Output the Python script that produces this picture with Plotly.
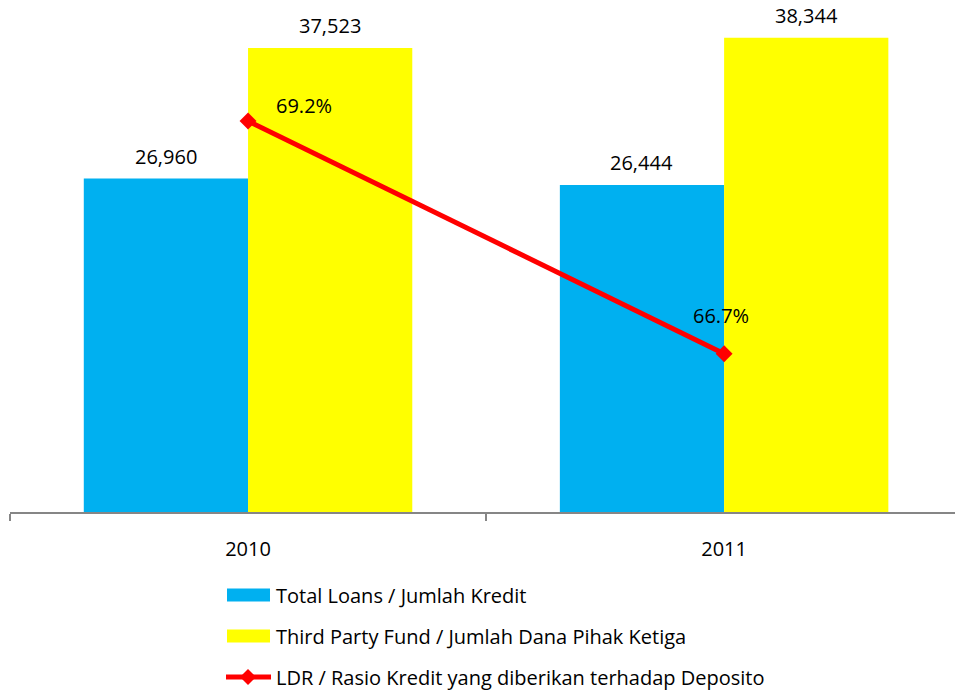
import plotly.graph_objects as go

# Chart data
years = ["2010", "2011"]
total_loans = [26960, 26444]
third_party_fund = [37523, 38344]
ldr_pct = [69.2, 66.7]

loans_name = "Total Loans / Jumlah Kredit"
fund_name = "Third Party Fund / Jumlah Dana Pihak Ketiga"
ldr_name = "LDR / Rasio Kredit yang diberikan terhadap Deposito"

BLUE = "#00B0F0"
YELLOW = "#FFFF00"
RED = "#FF0000"
FONT = "Open Sans"
FS = 20

W, H = 955, 692
ML, MR, MT, MB = 10, 0, 0, 180

fig = go.Figure()
fig.add_trace(go.Bar(x=years, y=total_loans, name=loans_name,
                     marker=dict(color=BLUE, line=dict(width=0)),
                     offsetgroup="a"))
fig.add_trace(go.Bar(x=years, y=third_party_fund, name=fund_name,
                     marker=dict(color=YELLOW, line=dict(width=0)),
                     offsetgroup="b"))
fig.add_trace(go.Scatter(x=years, y=ldr_pct, name=ldr_name, yaxis="y2",
                         mode="lines+markers",
                         line=dict(color=RED, width=5),
                         marker=dict(symbol="diamond", size=13, color=RED)))

bargap = 0.31
half = (1 - bargap) / 4  # centre offset of each bar within its group

annotations = []
for i in range(len(years)):
    annotations.append(dict(x=i - half, y=total_loans[i], xref="x", yref="y",
                            text=f"{total_loans[i]:,}", showarrow=False,
                            yanchor="middle", yshift=22))
    annotations.append(dict(x=i + half, y=third_party_fund[i], xref="x", yref="y",
                            text=f"{third_party_fund[i]:,}", showarrow=False,
                            yanchor="middle", yshift=22))

# percentage labels for the ratio line
annotations.append(dict(x=0, y=ldr_pct[0], xref="x", yref="y2",
                        text=f"{ldr_pct[0]:.1f}%", showarrow=False,
                        xanchor="left", yanchor="middle", xshift=26, yshift=16))
annotations.append(dict(x=1, y=ldr_pct[1], xref="x", yref="y2",
                        text=f"{ldr_pct[1]:.1f}%", showarrow=False,
                        xanchor="center", yanchor="middle", xshift=-3, yshift=38))

# custom legend drawn below the plot
pw = W - ML - MR
ph = H - MT - MB
def px_x(p):
    return (p - ML) / pw
def px_y(p):
    return (H - MB - p) / ph

shapes = []
legend_rows = [(loans_name, "box", BLUE, 595),
               (fund_name, "box", YELLOW, 636),
               (ldr_name, "line", RED, 677)]
for label, kind, color, yc in legend_rows:
    if kind == "box":
        shapes.append(dict(type="rect", xref="paper", yref="paper",
                           x0=px_x(227), x1=px_x(270),
                           y0=px_y(yc + 6.5), y1=px_y(yc - 6.5),
                           fillcolor=color, line=dict(width=0)))
    else:
        shapes.append(dict(type="line", xref="paper", yref="paper",
                           x0=px_x(226), x1=px_x(271),
                           y0=px_y(yc), y1=px_y(yc),
                           line=dict(color=color, width=5)))
        shapes.append(dict(type="path", xref="paper", yref="paper",
                           path=(f"M {px_x(248)},{px_y(yc - 8)} L {px_x(256)},{px_y(yc)} "
                                 f"L {px_x(248)},{px_y(yc + 8)} L {px_x(240)},{px_y(yc)} Z"),
                           fillcolor=color, line=dict(width=0)))
    annotations.append(dict(x=px_x(274), y=px_y(yc), xref="paper", yref="paper",
                            text=label, showarrow=False,
                            xanchor="left", yanchor="middle"))

fig.update_layout(
    width=W, height=H,
    margin=dict(l=ML, r=MR, t=MT, b=MB, pad=0),
    paper_bgcolor="white", plot_bgcolor="white",
    font=dict(family=FONT, size=FS, color="#000000"),
    barmode="group", bargap=bargap, bargroupgap=0,
    showlegend=False,
    xaxis=dict(type="category", range=[-0.5, 1.485],
               showline=True, linecolor="#868686", linewidth=2,
               ticks="outside", tickson="boundaries", ticklen=7, tickcolor="#868686",
               tickwidth=2, showgrid=False, zeroline=False,
               ticklabelstandoff=18, tickfont=dict(size=FS)),
    yaxis=dict(range=[0, 41400], visible=False, showgrid=False, zeroline=False),
    yaxis2=dict(range=[65, 70.5], overlaying="y", visible=False,
                showgrid=False, zeroline=False),
    annotations=annotations,
    shapes=shapes,
)

fig.write_html("out.html")
